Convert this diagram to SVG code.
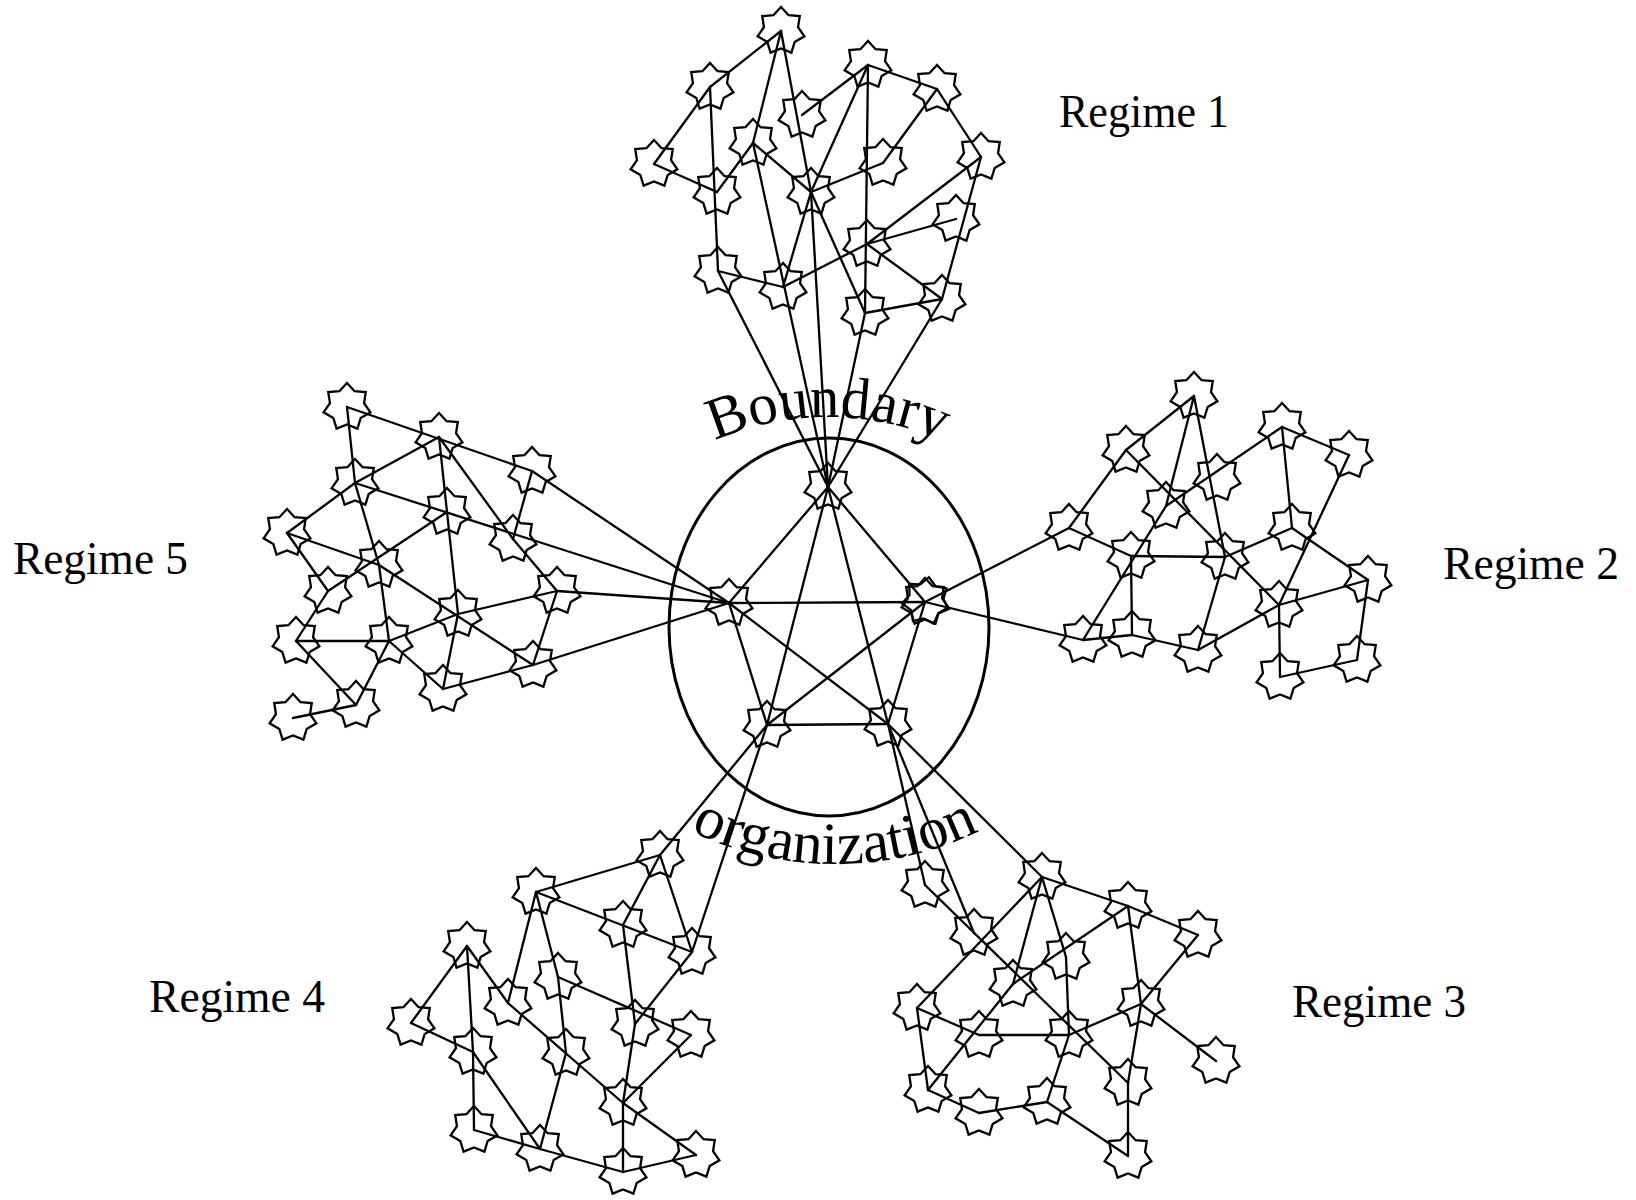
<svg xmlns="http://www.w3.org/2000/svg" xmlns:xlink="http://www.w3.org/1999/xlink" width="1636" height="1200" viewBox="0 0 1636 1200">
  <style>
    .link { stroke: #000; stroke-width: 2.3; stroke-linecap: round; fill: none; }
    .node use { fill: none; stroke: #000; stroke-width: 2.3; stroke-linejoin: miter; }
    .label { font-family: "Liberation Serif", "Times New Roman", serif; font-size: 46px; fill: #000; }
    .arc-label { font-family: "Liberation Serif", "Times New Roman", serif; font-size: 59px; fill: #000; }
    .arc-label.low { font-size: 60px; }
    .boundary { fill: none; stroke: #000; stroke-width: 3; }
  </style>
  <defs>
    <!-- seven-pointed star, point up, centred on 0,0 -->
    <path id="star" d="M0,-24 L7.59,-15.77 L18.76,-14.96 L17.06,-3.89 L23.4,5.34 L13.68,10.91 L10.41,21.62 L0,17.5 L-10.41,21.62 L-13.68,10.91 L-23.4,5.34 L-17.06,-3.89 L-18.76,-14.96 L-7.59,-15.77 Z"/>
    <path id="arcTop" d="M 665.7 468.2 A 283 283 0 0 1 990.3 468.2"/>
    <path id="arcBottom" d="M 644 803.8 A 333 333 0 0 0 1026 803.8"/>
  </defs>
  <rect width="1636" height="1200" fill="#fff"/>

  <!-- organisation boundary -->
  <ellipse class="boundary" cx="829" cy="627" rx="160" ry="189"/>

  <g id="connectors">
    <!-- core: complete graph -->
    <line class="link" x1="828" y1="487" x2="729" y2="603"/>
    <line class="link" x1="828" y1="487" x2="925" y2="602"/>
    <line class="link" x1="828" y1="487" x2="767" y2="725"/>
    <line class="link" x1="828" y1="487" x2="888" y2="724"/>
    <line class="link" x1="729" y1="603" x2="925" y2="602"/>
    <line class="link" x1="729" y1="603" x2="767" y2="725"/>
    <line class="link" x1="729" y1="603" x2="888" y2="724"/>
    <line class="link" x1="925" y1="602" x2="767" y2="725"/>
    <line class="link" x1="925" y1="602" x2="888" y2="724"/>
    <line class="link" x1="767" y1="725" x2="888" y2="724"/>

    <!-- regime 1 -->
    <line class="link" x1="781" y1="31" x2="710" y2="87"/>
    <line class="link" x1="710" y1="87" x2="654" y2="164"/>
    <line class="link" x1="654" y1="164" x2="717" y2="192"/>
    <line class="link" x1="710" y1="87" x2="718" y2="271"/>
    <line class="link" x1="781" y1="31" x2="753" y2="143"/>
    <line class="link" x1="753" y1="143" x2="717" y2="192"/>
    <line class="link" x1="753" y1="143" x2="811" y2="192"/>
    <line class="link" x1="781" y1="31" x2="811" y2="192"/>
    <line class="link" x1="802" y1="115" x2="868" y2="65"/>
    <line class="link" x1="868" y1="65" x2="937" y2="89"/>
    <line class="link" x1="868" y1="65" x2="811" y2="192"/>
    <line class="link" x1="868" y1="65" x2="865" y2="313"/>
    <line class="link" x1="937" y1="89" x2="883" y2="163"/>
    <line class="link" x1="937" y1="89" x2="981" y2="157"/>
    <line class="link" x1="811" y1="192" x2="883" y2="163"/>
    <line class="link" x1="981" y1="157" x2="867" y2="244"/>
    <line class="link" x1="981" y1="157" x2="942" y2="299"/>
    <line class="link" x1="867" y1="244" x2="956" y2="219"/>
    <line class="link" x1="867" y1="244" x2="942" y2="299"/>
    <line class="link" x1="865" y1="313" x2="942" y2="299"/>
    <line class="link" x1="718" y1="271" x2="783" y2="287"/>
    <line class="link" x1="783" y1="287" x2="867" y2="244"/>
    <line class="link" x1="783" y1="287" x2="811" y2="192"/>
    <line class="link" x1="811" y1="192" x2="865" y2="313"/>
    <line class="link" x1="718" y1="271" x2="828" y2="487"/>
    <line class="link" x1="753" y1="143" x2="828" y2="487"/>
    <line class="link" x1="811" y1="192" x2="828" y2="487"/>
    <line class="link" x1="865" y1="313" x2="828" y2="487"/>
    <line class="link" x1="942" y1="299" x2="828" y2="487"/>

    <!-- regime 2 -->
    <line class="link" x1="1194" y1="396" x2="1126" y2="450"/>
    <line class="link" x1="1126" y1="450" x2="1069" y2="528"/>
    <line class="link" x1="925" y1="602" x2="1069" y2="528"/>
    <line class="link" x1="1069" y1="528" x2="1131" y2="556"/>
    <line class="link" x1="1126" y1="450" x2="1279" y2="605"/>
    <line class="link" x1="1194" y1="396" x2="1166" y2="506"/>
    <line class="link" x1="1194" y1="396" x2="1225" y2="557"/>
    <line class="link" x1="1166" y1="506" x2="1282" y2="427"/>
    <line class="link" x1="1166" y1="506" x2="1083" y2="640"/>
    <line class="link" x1="1282" y1="427" x2="1349" y2="455"/>
    <line class="link" x1="1282" y1="427" x2="1292" y2="528"/>
    <line class="link" x1="1349" y1="455" x2="1279" y2="605"/>
    <line class="link" x1="1131" y1="556" x2="1225" y2="557"/>
    <line class="link" x1="1131" y1="556" x2="1132" y2="635"/>
    <line class="link" x1="1225" y1="557" x2="1292" y2="528"/>
    <line class="link" x1="1292" y1="528" x2="1368" y2="580"/>
    <line class="link" x1="1225" y1="557" x2="1198" y2="650"/>
    <line class="link" x1="1279" y1="605" x2="1368" y2="580"/>
    <line class="link" x1="1279" y1="605" x2="1280" y2="677"/>
    <line class="link" x1="1279" y1="605" x2="1198" y2="650"/>
    <line class="link" x1="1368" y1="580" x2="1357" y2="660"/>
    <line class="link" x1="1280" y1="677" x2="1357" y2="660"/>
    <line class="link" x1="1083" y1="640" x2="1132" y2="635"/>
    <line class="link" x1="1132" y1="635" x2="1198" y2="650"/>
    <line class="link" x1="925" y1="602" x2="1083" y2="640"/>

    <!-- regime 5 -->
    <line class="link" x1="347" y1="407" x2="532" y2="471"/>
    <line class="link" x1="532" y1="471" x2="729" y2="603"/>
    <line class="link" x1="347" y1="407" x2="355" y2="483"/>
    <line class="link" x1="355" y1="483" x2="379" y2="565"/>
    <line class="link" x1="379" y1="565" x2="389" y2="641"/>
    <line class="link" x1="439" y1="437" x2="355" y2="483"/>
    <line class="link" x1="355" y1="483" x2="287" y2="533"/>
    <line class="link" x1="439" y1="437" x2="447" y2="512"/>
    <line class="link" x1="447" y1="512" x2="458" y2="614"/>
    <line class="link" x1="458" y1="614" x2="443" y2="689"/>
    <line class="link" x1="439" y1="437" x2="513" y2="539"/>
    <line class="link" x1="513" y1="539" x2="557" y2="591"/>
    <line class="link" x1="532" y1="471" x2="513" y2="539"/>
    <line class="link" x1="355" y1="483" x2="729" y2="603"/>
    <line class="link" x1="287" y1="533" x2="379" y2="565"/>
    <line class="link" x1="379" y1="565" x2="533" y2="665"/>
    <line class="link" x1="287" y1="533" x2="328" y2="591"/>
    <line class="link" x1="328" y1="591" x2="447" y2="512"/>
    <line class="link" x1="328" y1="591" x2="296" y2="641"/>
    <line class="link" x1="296" y1="641" x2="389" y2="641"/>
    <line class="link" x1="296" y1="641" x2="356" y2="705"/>
    <line class="link" x1="389" y1="641" x2="356" y2="705"/>
    <line class="link" x1="389" y1="641" x2="458" y2="614"/>
    <line class="link" x1="389" y1="641" x2="443" y2="689"/>
    <line class="link" x1="458" y1="614" x2="557" y2="591"/>
    <line class="link" x1="557" y1="591" x2="533" y2="665"/>
    <line class="link" x1="557" y1="591" x2="729" y2="603"/>
    <line class="link" x1="533" y1="665" x2="443" y2="689"/>
    <line class="link" x1="533" y1="665" x2="729" y2="603"/>
    <line class="link" x1="356" y1="705" x2="293" y2="718"/>

    <!-- regime 3 -->
    <line class="link" x1="888" y1="724" x2="1042" y2="877"/>
    <line class="link" x1="888" y1="724" x2="925" y2="885"/>
    <line class="link" x1="888" y1="724" x2="974" y2="933"/>
    <line class="link" x1="1042" y1="877" x2="1128" y2="906"/>
    <line class="link" x1="1128" y1="906" x2="1198" y2="935"/>
    <line class="link" x1="1042" y1="877" x2="917" y2="1008"/>
    <line class="link" x1="1042" y1="877" x2="1013" y2="984"/>
    <line class="link" x1="1042" y1="877" x2="1066" y2="957"/>
    <line class="link" x1="1066" y1="957" x2="1069" y2="1035"/>
    <line class="link" x1="1128" y1="906" x2="1013" y2="984"/>
    <line class="link" x1="1013" y1="984" x2="928" y2="1090"/>
    <line class="link" x1="917" y1="1008" x2="979" y2="1035"/>
    <line class="link" x1="917" y1="1008" x2="928" y2="1090"/>
    <line class="link" x1="979" y1="1035" x2="1069" y2="1035"/>
    <line class="link" x1="1069" y1="1035" x2="1047" y2="1102"/>
    <line class="link" x1="928" y1="1090" x2="979" y2="1113"/>
    <line class="link" x1="979" y1="1113" x2="1047" y2="1102"/>
    <line class="link" x1="1047" y1="1102" x2="1128" y2="1156"/>
    <line class="link" x1="1069" y1="1035" x2="1141" y2="1004"/>
    <line class="link" x1="925" y1="885" x2="1128" y2="1083"/>
    <line class="link" x1="1141" y1="1004" x2="1128" y2="906"/>
    <line class="link" x1="1141" y1="1004" x2="1198" y2="935"/>
    <line class="link" x1="1141" y1="1004" x2="1216" y2="1061"/>
    <line class="link" x1="1141" y1="1004" x2="1128" y2="1083"/>
    <line class="link" x1="1128" y1="1083" x2="1128" y2="1156"/>

    <!-- regime 4 -->
    <line class="link" x1="767" y1="725" x2="660" y2="855"/>
    <line class="link" x1="767" y1="725" x2="692" y2="952"/>
    <line class="link" x1="660" y1="855" x2="536" y2="892"/>
    <line class="link" x1="660" y1="855" x2="623" y2="925"/>
    <line class="link" x1="623" y1="925" x2="635" y2="1024"/>
    <line class="link" x1="635" y1="1024" x2="623" y2="1103"/>
    <line class="link" x1="623" y1="1103" x2="623" y2="1172"/>
    <line class="link" x1="660" y1="855" x2="692" y2="952"/>
    <line class="link" x1="536" y1="892" x2="692" y2="952"/>
    <line class="link" x1="536" y1="892" x2="508" y2="1003"/>
    <line class="link" x1="536" y1="892" x2="558" y2="977"/>
    <line class="link" x1="558" y1="977" x2="566" y2="1053"/>
    <line class="link" x1="566" y1="1053" x2="540" y2="1149"/>
    <line class="link" x1="467" y1="946" x2="411" y2="1023"/>
    <line class="link" x1="467" y1="946" x2="473" y2="1052"/>
    <line class="link" x1="473" y1="1052" x2="474" y2="1130"/>
    <line class="link" x1="467" y1="946" x2="508" y2="1003"/>
    <line class="link" x1="508" y1="1003" x2="623" y2="1103"/>
    <line class="link" x1="623" y1="1103" x2="696" y2="1155"/>
    <line class="link" x1="692" y1="952" x2="635" y2="1024"/>
    <line class="link" x1="558" y1="977" x2="691" y2="1035"/>
    <line class="link" x1="691" y1="1035" x2="623" y2="1103"/>
    <line class="link" x1="411" y1="1023" x2="473" y2="1052"/>
    <line class="link" x1="473" y1="1052" x2="540" y2="1149"/>
    <line class="link" x1="474" y1="1130" x2="540" y2="1149"/>
    <line class="link" x1="540" y1="1149" x2="623" y2="1172"/>
    <line class="link" x1="623" y1="1172" x2="696" y2="1155"/>
  </g>

  <!-- core members inside the boundary -->
  <g id="core-1" class="node"><use href="#star" transform="translate(828,487)"/></g>
  <g id="core-2" class="node"><use href="#star" transform="translate(729,603)"/></g>
  <g id="core-3" class="node"><use href="#star" transform="translate(925,602)"/><use href="#star" transform="translate(926,601) rotate(7)"/></g>
  <g id="core-4" class="node"><use href="#star" transform="translate(767,725)"/></g>
  <g id="core-5" class="node"><use href="#star" transform="translate(888,724)"/></g>

  <!-- regime 1 members -->
  <g id="r1-1" class="node"><use href="#star" transform="translate(781,31)"/></g>
  <g id="r1-2" class="node"><use href="#star" transform="translate(710,87)"/></g>
  <g id="r1-3" class="node"><use href="#star" transform="translate(654,164)"/></g>
  <g id="r1-4" class="node"><use href="#star" transform="translate(802,115)"/></g>
  <g id="r1-5" class="node"><use href="#star" transform="translate(753,143)"/></g>
  <g id="r1-6" class="node"><use href="#star" transform="translate(868,65)"/></g>
  <g id="r1-7" class="node"><use href="#star" transform="translate(937,89)"/></g>
  <g id="r1-8" class="node"><use href="#star" transform="translate(981,157)"/></g>
  <g id="r1-9" class="node"><use href="#star" transform="translate(717,192)"/></g>
  <g id="r1-10" class="node"><use href="#star" transform="translate(811,192)"/></g>
  <g id="r1-11" class="node"><use href="#star" transform="translate(883,163)"/></g>
  <g id="r1-12" class="node"><use href="#star" transform="translate(956,219)"/></g>
  <g id="r1-13" class="node"><use href="#star" transform="translate(867,244)"/></g>
  <g id="r1-14" class="node"><use href="#star" transform="translate(718,271)"/></g>
  <g id="r1-15" class="node"><use href="#star" transform="translate(783,287)"/></g>
  <g id="r1-16" class="node"><use href="#star" transform="translate(865,313)"/></g>
  <g id="r1-17" class="node"><use href="#star" transform="translate(942,299)"/></g>

  <!-- regime 2 members -->
  <g id="r2-1" class="node"><use href="#star" transform="translate(1194,396)"/></g>
  <g id="r2-2" class="node"><use href="#star" transform="translate(1126,450)"/></g>
  <g id="r2-3" class="node"><use href="#star" transform="translate(1069,528)"/></g>
  <g id="r2-4" class="node"><use href="#star" transform="translate(1282,427)"/></g>
  <g id="r2-5" class="node"><use href="#star" transform="translate(1349,455)"/></g>
  <g id="r2-6" class="node"><use href="#star" transform="translate(1217,478)"/></g>
  <g id="r2-7" class="node"><use href="#star" transform="translate(1166,506)"/></g>
  <g id="r2-8" class="node"><use href="#star" transform="translate(1131,556)"/></g>
  <g id="r2-9" class="node"><use href="#star" transform="translate(1225,557)"/></g>
  <g id="r2-10" class="node"><use href="#star" transform="translate(1292,528)"/></g>
  <g id="r2-11" class="node"><use href="#star" transform="translate(1368,580)"/></g>
  <g id="r2-12" class="node"><use href="#star" transform="translate(1279,605)"/></g>
  <g id="r2-13" class="node"><use href="#star" transform="translate(1083,640)"/></g>
  <g id="r2-14" class="node"><use href="#star" transform="translate(1132,635)"/></g>
  <g id="r2-15" class="node"><use href="#star" transform="translate(1198,650)"/></g>
  <g id="r2-16" class="node"><use href="#star" transform="translate(1280,677)"/></g>
  <g id="r2-17" class="node"><use href="#star" transform="translate(1357,660)"/></g>

  <!-- regime 3 members -->
  <g id="r3-1" class="node"><use href="#star" transform="translate(1042,877)"/></g>
  <g id="r3-2" class="node"><use href="#star" transform="translate(925,885)"/></g>
  <g id="r3-3" class="node"><use href="#star" transform="translate(1128,906)"/></g>
  <g id="r3-4" class="node"><use href="#star" transform="translate(1198,935)"/></g>
  <g id="r3-5" class="node"><use href="#star" transform="translate(974,933)"/></g>
  <g id="r3-6" class="node"><use href="#star" transform="translate(1066,957)"/></g>
  <g id="r3-7" class="node"><use href="#star" transform="translate(1013,984)"/></g>
  <g id="r3-8" class="node"><use href="#star" transform="translate(917,1008)"/></g>
  <g id="r3-9" class="node"><use href="#star" transform="translate(1141,1004)"/></g>
  <g id="r3-10" class="node"><use href="#star" transform="translate(979,1035)"/></g>
  <g id="r3-11" class="node"><use href="#star" transform="translate(1069,1035)"/></g>
  <g id="r3-12" class="node"><use href="#star" transform="translate(1216,1061)"/></g>
  <g id="r3-13" class="node"><use href="#star" transform="translate(928,1090)"/></g>
  <g id="r3-14" class="node"><use href="#star" transform="translate(1128,1083)"/></g>
  <g id="r3-15" class="node"><use href="#star" transform="translate(979,1113)"/></g>
  <g id="r3-16" class="node"><use href="#star" transform="translate(1047,1102)"/></g>
  <g id="r3-17" class="node"><use href="#star" transform="translate(1128,1156)"/></g>

  <!-- regime 4 members -->
  <g id="r4-1" class="node"><use href="#star" transform="translate(660,855)"/></g>
  <g id="r4-2" class="node"><use href="#star" transform="translate(536,892)"/></g>
  <g id="r4-3" class="node"><use href="#star" transform="translate(467,946)"/></g>
  <g id="r4-4" class="node"><use href="#star" transform="translate(623,925)"/></g>
  <g id="r4-5" class="node"><use href="#star" transform="translate(692,952)"/></g>
  <g id="r4-6" class="node"><use href="#star" transform="translate(558,977)"/></g>
  <g id="r4-7" class="node"><use href="#star" transform="translate(508,1003)"/></g>
  <g id="r4-8" class="node"><use href="#star" transform="translate(411,1023)"/></g>
  <g id="r4-9" class="node"><use href="#star" transform="translate(635,1024)"/></g>
  <g id="r4-10" class="node"><use href="#star" transform="translate(691,1035)"/></g>
  <g id="r4-11" class="node"><use href="#star" transform="translate(473,1052)"/></g>
  <g id="r4-12" class="node"><use href="#star" transform="translate(566,1053)"/></g>
  <g id="r4-13" class="node"><use href="#star" transform="translate(623,1103)"/></g>
  <g id="r4-14" class="node"><use href="#star" transform="translate(474,1130)"/></g>
  <g id="r4-15" class="node"><use href="#star" transform="translate(540,1149)"/></g>
  <g id="r4-16" class="node"><use href="#star" transform="translate(623,1172)"/></g>
  <g id="r4-17" class="node"><use href="#star" transform="translate(696,1155)"/></g>

  <!-- regime 5 members -->
  <g id="r5-1" class="node"><use href="#star" transform="translate(347,407)"/></g>
  <g id="r5-2" class="node"><use href="#star" transform="translate(439,437)"/></g>
  <g id="r5-3" class="node"><use href="#star" transform="translate(532,471)"/></g>
  <g id="r5-4" class="node"><use href="#star" transform="translate(355,483)"/></g>
  <g id="r5-5" class="node"><use href="#star" transform="translate(447,512)"/></g>
  <g id="r5-6" class="node"><use href="#star" transform="translate(287,533)"/></g>
  <g id="r5-7" class="node"><use href="#star" transform="translate(513,539)"/></g>
  <g id="r5-8" class="node"><use href="#star" transform="translate(379,565)"/></g>
  <g id="r5-9" class="node"><use href="#star" transform="translate(328,591)"/></g>
  <g id="r5-10" class="node"><use href="#star" transform="translate(557,591)"/></g>
  <g id="r5-11" class="node"><use href="#star" transform="translate(458,614)"/></g>
  <g id="r5-12" class="node"><use href="#star" transform="translate(296,641)"/></g>
  <g id="r5-13" class="node"><use href="#star" transform="translate(389,641)"/></g>
  <g id="r5-14" class="node"><use href="#star" transform="translate(533,665)"/></g>
  <g id="r5-15" class="node"><use href="#star" transform="translate(443,689)"/></g>
  <g id="r5-16" class="node"><use href="#star" transform="translate(356,705)"/></g>
  <g id="r5-17" class="node"><use href="#star" transform="translate(293,718)"/></g>

  <!-- curved captions around the boundary -->
  <g id="caption-boundary">
    <text class="arc-label"><textPath href="#arcTop" startOffset="50%" text-anchor="middle">Boundary</textPath></text>
  </g>
  <g id="caption-organization">
    <text class="arc-label low"><textPath href="#arcBottom" startOffset="50%" text-anchor="middle">organization</textPath></text>
  </g>

  <!-- regime names -->
  <g id="labels">
    <text class="label" x="1059" y="127" textLength="170" lengthAdjust="spacingAndGlyphs">Regime 1</text>
    <text class="label" x="1443" y="579" textLength="176" lengthAdjust="spacingAndGlyphs">Regime 2</text>
    <text class="label" x="1292" y="1017" textLength="174" lengthAdjust="spacingAndGlyphs">Regime 3</text>
    <text class="label" x="149" y="1012" textLength="176" lengthAdjust="spacingAndGlyphs">Regime 4</text>
    <text class="label" x="13" y="574" textLength="175" lengthAdjust="spacingAndGlyphs">Regime 5</text>
  </g>
</svg>
